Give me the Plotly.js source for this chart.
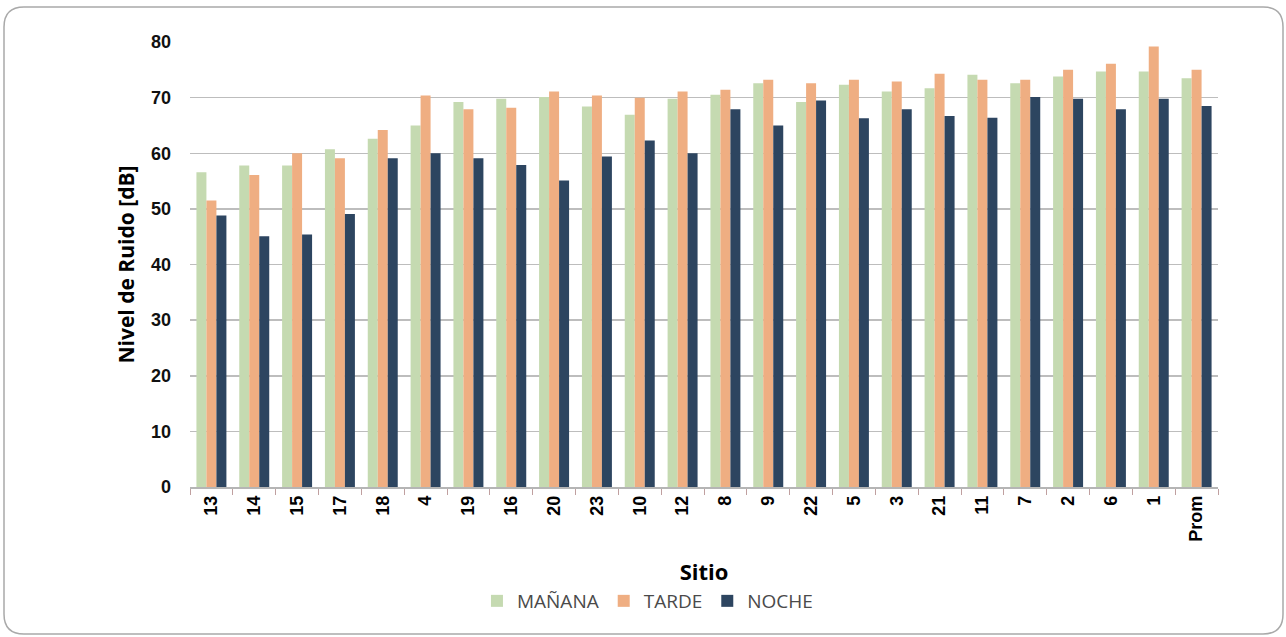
<!DOCTYPE html>
<html>
<head>
<meta charset="utf-8">
<script src="https://cdn.plot.ly/plotly-3.0.1.min.js"></script>
<style>
html,body{margin:0;padding:0;background:#fff;}
#chart{width:1286px;height:637px;}
</style>
</head>
<body>
<div id="chart"></div>
<script>
const sitios = ["13","14","15","17","18","4","19","16","20","23","10","12","8","9","22","5","3","21","11","7","2","6","1","Prom"];
const manana = [56.6,57.8,57.8,60.7,62.6,65.0,69.2,69.8,70.1,68.4,66.9,69.8,70.5,72.6,69.2,72.3,71.1,71.7,74.1,72.6,73.8,74.7,74.7,73.5];
const tarde  = [51.5,56.1,60.0,59.1,64.2,70.4,67.9,68.2,71.1,70.4,70.0,71.1,71.4,73.2,72.6,73.2,72.9,74.3,73.2,73.2,75.0,76.1,79.2,75.0];
const noche  = [48.8,45.1,45.4,49.1,59.1,60.0,59.1,57.9,55.1,59.4,62.3,60.0,67.9,65.0,69.5,66.3,67.9,66.7,66.4,70.1,69.8,67.9,69.8,68.5];
const seriesNames = ["MAÑANA","TARDE","NOCHE"];
const colors = ["#C5DAB1","#EFAE82","#2D4560"];

const traces = [manana, tarde, noche].map((vals, i) => ({
  type: "bar",
  name: seriesNames[i],
  x: sitios,
  y: vals,
  marker: {color: colors[i], line: {width: 0}},
  hoverinfo: "x+y+name"
}));

// Frame geometry (pixels) converted to paper coords
const L = 190, R = 68, T = 42, B = 150, W = 1286, H = 637;
const pw = W - L - R, ph = H - T - B;
const px = v => (v - L) / pw;
const py = v => (H - B - v) / ph;
const fx0 = 4, fy0 = 7, fx1 = 1283, fy1 = 634, rr = 20;
const framePath =
  `M ${px(fx0+rr)},${py(fy0)} L ${px(fx1-rr)},${py(fy0)} Q ${px(fx1)},${py(fy0)} ${px(fx1)},${py(fy0+rr)} ` +
  `L ${px(fx1)},${py(fy1-rr)} Q ${px(fx1)},${py(fy1)} ${px(fx1-rr)},${py(fy1)} ` +
  `L ${px(fx0+rr)},${py(fy1)} Q ${px(fx0)},${py(fy1)} ${px(fx0)},${py(fy1-rr)} ` +
  `L ${px(fx0)},${py(fy0+rr)} Q ${px(fx0)},${py(fy0)} ${px(fx0+rr)},${py(fy0)} Z`;

const layout = {
  width: W, height: H,
  margin: {l: L, r: R, t: T, b: B},
  paper_bgcolor: "#ffffff",
  plot_bgcolor: "#ffffff",
  barmode: "group",
  bargap: 0.3,
  bargroupgap: 0,
  showlegend: true,
  legend: {
    orientation: "h",
    x: 0.445, xanchor: "center",
    y: py(601), yanchor: "middle",
    font: {family: "Open Sans, Arial, sans-serif", size: 19, color: "#4a4a4a"},
    itemwidth: 30,
    traceorder: "normal"
  },
  xaxis: {
    type: "category",
    tickangle: -90,
    tickfont: {family: "Liberation Sans, Arial, sans-serif", size: 18, color: "#000", weight: "bold"},
    ticks: "outside",
    tickson: "boundaries",
    ticklen: 6,
    tickcolor: "#c0a0a0",
    showline: true,
    linecolor: "#b5b5b5",
    linewidth: 1.5,
    showgrid: false,
    automargin: false,
    title: {text: "<b>Sitio</b>", font: {family: "Open Sans, Arial, sans-serif", size: 22, color: "#000"}, standoff: 24}
  },
  yaxis: {
    range: [0, 80],
    dtick: 10,
    tickfont: {family: "Liberation Sans, Arial, sans-serif", size: 18, color: "#111", weight: "bold"},
    ticks: "",
    ticklabelstandoff: 18,
    showgrid: true,
    gridcolor: "#bdbdbd",
    gridwidth: 1.5,
    zeroline: false,
    showline: false,
    automargin: false,
    title: {text: "<b>Nivel de Ruido [dB]</b>", font: {family: "Open Sans, Arial, sans-serif", size: 21, color: "#000"}, standoff: 10}
  },
  shapes: [{
    type: "path", xref: "paper", yref: "paper",
    path: framePath,
    line: {color: "#a9a9a9", width: 1.5},
    fillcolor: "rgba(0,0,0,0)",
    layer: "below"
  }]
};

Plotly.newPlot("chart", traces, layout, {displayModeBar: false, staticPlot: true});
</script>
</body>
</html>
